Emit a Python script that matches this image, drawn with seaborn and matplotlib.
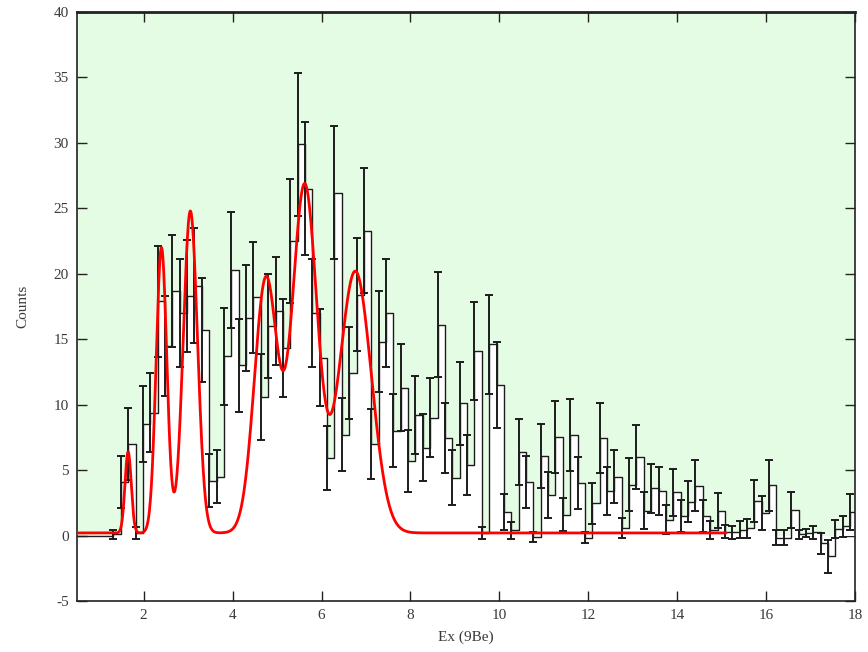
import numpy as np
import matplotlib
matplotlib.use("Agg")
import matplotlib.pyplot as plt
import seaborn as sns

# ---- histogram data (left bin edges start at first_edge, constant width) ----
first_edge = 1.32
bin_width = 0.1657
counts = [0.1, 4.1, 7.0, 0.2, 8.5, 9.4, 17.9, 14.5, 18.7, 17.0,
          18.3, 19.1, 15.7, 4.2, 4.5, 13.7, 20.3, 13.0, 16.6, 18.2,
          10.6, 16.0, 17.15, 14.3, 22.5, 29.9, 26.5, 17.0, 13.6, 5.95,
          26.2, 7.7, 12.4, 18.4, 23.3, 7.0, 14.8, 17.0, 8.0, 11.3,
          5.7, 9.2, 6.7, 9.0, 16.1, 7.45, 4.4, 10.1, 5.4, 14.1,
          0.2, 14.6, 11.5, 1.8, 0.4, 6.4, 4.1, -0.1, 6.05, 3.1,
          7.5, 1.6, 7.7, 4.0, -0.15, 2.45, 7.45, 3.4, 4.5, 0.6,
          3.9, 6.0, 1.9, 3.6, 3.4, 1.2, 3.3, 1.5, 2.6, 3.8,
          1.5, 0.45, 1.9, 0.3, 0.25, 0.45, 0.55, 2.65, 1.7, 3.85,
          -0.15, -0.15, 1.95, 0.1, 0.2, 0.25, -0.6, -1.6, 0.5, 0.7,
          1.8]
errors = [0.33, 2.0, 2.75, 0.45, 2.9, 3.05, 4.23, 3.8, 4.3, 4.1,
          4.3, 4.4, 3.95, 2.05, 2.05, 3.7, 4.45, 3.55, 4.05, 4.25,
          3.3, 4.0, 4.1, 3.75, 4.75, 5.45, 5.1, 4.1, 3.7, 2.45,
          5.1, 2.8, 3.5, 4.3, 4.8, 2.65, 3.85, 4.1, 2.8, 3.35,
          2.35, 3.0, 2.55, 3.0, 4.0, 2.7, 2.1, 3.15, 2.3, 3.75,
          0.45, 3.8, 3.3, 1.35, 0.63, 2.5, 2.0, 0.4, 2.45, 1.75,
          2.75, 1.25, 2.75, 2.0, 0.4, 1.55, 2.7, 1.85, 2.05, 0.75,
          2.0, 2.45, 1.4, 1.9, 1.85, 1.1, 1.8, 1.2, 1.6, 1.95,
          1.2, 0.7, 1.35, 0.5, 0.5, 0.65, 0.7, 1.6, 1.3, 1.95,
          0.55, 0.55, 1.4, 0.35, 0.3, 0.5, 0.8, 1.25, 0.7, 0.8,
          1.35]

# ---- multi-peak fit ----
peak_centers = [1.65, 2.40, 3.05, 4.75, 5.62, 6.76]
peak_heights = [6.2, 21.8, 24.6, 19.4, 26.5, 20.0]
peak_sigmas = [0.07, 0.12, 0.16, 0.26, 0.28, 0.36]
fit_background = 0.2
fit_range = (0.5, 15.1)

x_ticks = [2, 4, 6, 8, 10, 12, 14, 16, 18]
y_ticks = [-5, 0, 5, 10, 15, 20, 25, 30, 35, 40]
x_label = "Ex (9Be)"
y_label = "Counts"

sns.set_theme(style="ticks")
plt.rcParams["font.family"] = ["Liberation Serif", "DejaVu Serif"]

fig = plt.figure(figsize=(8.68, 6.52), dpi=100)
ax = fig.add_axes([77 / 868, 1 - 601 / 652, (855 - 77) / 868, (601 - 12) / 652])
ax.set_xlim(0.5, 18)
ax.set_ylim(-5, 40)
ax.set_facecolor("white")
ax.axhspan(0, 40, color="#e3fce3", zorder=0, lw=0)

counts_arr = np.asarray(counts)
edges = first_edge + np.arange(len(counts_arr) + 1) * bin_width
xs = np.concatenate([[0.5], edges])
ys = np.concatenate([[0.0], counts_arr, [counts_arr[-1]]])
ax.fill_between(xs, 0, ys, step="post", color="white", lw=0, zorder=1)
ax.step(xs, ys, where="post", color="#1c1c1c", lw=1.0, zorder=2)
ax.errorbar(edges[:-1], counts_arr, yerr=errors, fmt="none", ecolor="#1c1c1c",
            elinewidth=1.4, capsize=2.6, capthick=1.4, zorder=3)

xf = np.linspace(fit_range[0], fit_range[1], 2000)
yf = np.full_like(xf, fit_background)
for c, h, s in zip(peak_centers, peak_heights, peak_sigmas):
    yf += h * np.exp(-0.5 * ((xf - c) / s) ** 2)
sns.lineplot(x=xf, y=yf, color="#ff0000", lw=2.0, ax=ax, zorder=4, sort=False)

ax.set_xticks(x_ticks)
ax.set_yticks(y_ticks)
ax.set_xticklabels([str(t) for t in x_ticks])
ax.set_yticklabels([str(t) for t in y_ticks])
ax.tick_params(direction="in", length=7, width=1.0, top=True, right=True,
               labelsize=11, labelcolor="#3a3a3a", color="#222222", pad=6)
for sp in ax.spines.values():
    sp.set_color("#222222")
    sp.set_linewidth(1.2)
ax.spines["top"].set_linewidth(2.0)
ax.set_xlabel(x_label, fontsize=11, color="#3a3a3a", labelpad=6)
ax.set_ylabel(y_label, fontsize=11, color="#3a3a3a", labelpad=17)
ax.grid(False)

fig.savefig("out.png", dpi=100)
